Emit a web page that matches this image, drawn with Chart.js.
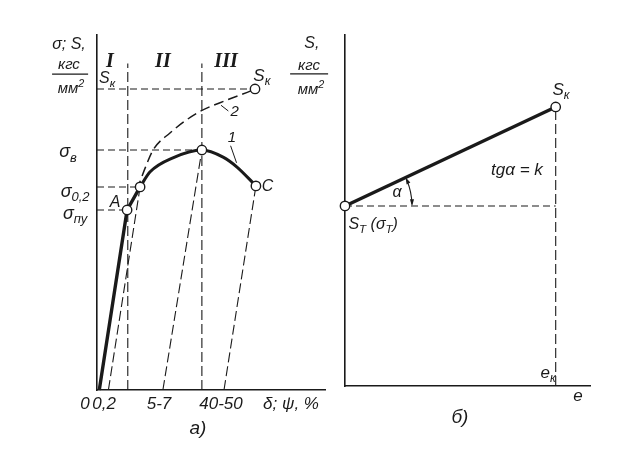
<!DOCTYPE html>
<html>
<head>
<meta charset="utf-8">
<script src="https://cdn.jsdelivr.net/npm/chart.js@4.4.1/dist/chart.umd.min.js"></script>
<style>
    html, body { margin: 0; padding: 0; background: #fff; }
    #wrap { position: relative; width: 627px; height: 450px; overflow: hidden; }
    canvas { position: absolute; top: 0; }
    #left { left: 0; }
    #right { left: 285px; }
</style>
</head>
<body>
<div id="wrap">
    <canvas id="left" width="335" height="450"></canvas>
    <canvas id="right" width="342" height="450"></canvas>
</div>
<script>
// ---- a) tension diagram: curve 1 (conventional), curve 2 (true stress) ----
var elasticX = [1, 13.2, 18.9];
var elasticY = [0, 50.7, 57.2];
var curve1X = [18.9, 23.2, 33.3, 46, 55.3, 61.4, 69.7];
var curve1Y = [57.2, 61.4, 65.4, 67.6, 65.6, 62.8, 57.5];
var curve2X = [17.5, 21.1, 24.6, 32.0, 43.9, 57.0, 68.4, 69.3];
var curve2Y = [56.3, 62.5, 67.6, 72.4, 78.0, 81.7, 84.5, 84.8];
// stress levels: S_k, σ_в, σ_0,2, σ_пу
var levelY = [84.8, 67.6, 57.2, 50.7];
var levelEndX = [69.3, 46, 18.9, 13.2];
// zone borders I | II | III
var zoneX = [13.5, 46];
var zoneTopY = 92;
// unloading lines down to the residual strain
var unloadFootX = [5, 28.9, 55.7];
var unloadTopX = [18.9, 46, 69.7];
var unloadTopY = [57.2, 67.6, 57.5];
var markerX = [13.2, 18.9, 46, 69.7, 69.3];
var markerY = [50.7, 57.2, 67.6, 57.5, 84.8];
var xTickLabels = ['0', '0,2', '5-7', '40-50'];
var xTickAt = [-5.3, 3.1, 27.2, 54.4];

// ---- б) true stress vs strain: S_т(σ_т) -> S_к ----
var rightX = [0, 86];
var rightY = [51.3, 79.5];

var INK = '#1a1a1a';
var FAM = '"Liberation Sans", sans-serif';

function pts(xs, ys) {
    return xs.map(function (x, i) { return { x: x, y: ys[i] }; });
}

function seg(xs, ys, extra) {
    return Object.assign({
        data: pts(xs, ys),
        borderColor: INK,
        borderWidth: 1.1,
        pointRadius: 0,
        fill: false,
        tension: 0,
        clip: false
    }, extra || {});
}

function markers(xs, ys) {
    return {
        data: pts(xs, ys),
        showLine: false,
        pointRadius: 4.7,
        pointBackgroundColor: '#fff',
        pointBorderColor: INK,
        pointBorderWidth: 1.4,
        clip: false
    };
}

// text with sub (1) and superscript (2) parts
function drawRich(ctx, parts, x, y, size, font) {
    var fam = font || ('italic SIZEpx ' + FAM);
    var w = 0;
    parts.forEach(function (p) {
        ctx.font = fam.replace('SIZE', p[1] ? size * 0.72 : size);
        w += ctx.measureText(p[0]).width;
    });
    var cx = x - w / 2;
    ctx.textBaseline = 'middle';
    ctx.textAlign = 'left';
    ctx.fillStyle = INK;
    parts.forEach(function (p) {
        var s = p[1] ? size * 0.72 : size;
        ctx.font = fam.replace('SIZE', s);
        var dy = p[1] === 1 ? size * 0.32 : (p[1] === 2 ? -size * 0.36 : 0);
        ctx.fillText(p[0], cx, y + dy);
        cx += ctx.measureText(p[0]).width;
    });
}

function line(ctx, x1, y1, x2, y2, w) {
    ctx.beginPath();
    ctx.moveTo(x1, y1);
    ctx.lineTo(x2, y2);
    ctx.lineWidth = w || 1;
    ctx.strokeStyle = INK;
    ctx.setLineDash([]);
    ctx.stroke();
}

function textPlugin(items, extra) {
    return {
        id: 'texts',
        afterDraw: function (chart) {
            var ctx = chart.ctx, sx = chart.scales.x, sy = chart.scales.y;
            ctx.save();
            items.forEach(function (it) {
                drawRich(ctx, it.p, sx.getPixelForValue(it.x), sy.getPixelForValue(it.y), it.s || 16, it.f);
            });
            if (extra) extra(ctx, sx, sy);
            ctx.restore();
        }
    };
}

function options(pad) {
    var axis = {
        type: 'linear', min: 0, max: 100,
        grid: { display: false },
        ticks: { display: false },
        border: { color: INK, width: 1.6 }
    };
    return {
        responsive: false,
        animation: false,
        events: [],
        layout: { padding: pad },
        plugins: { legend: { display: false }, tooltip: { enabled: false } },
        scales: {
            x: Object.assign({ afterFit: function (s) { s.height = 0; } }, axis),
            y: Object.assign({ afterFit: function (s) { s.width = 0; } }, axis)
        }
    };
}

// ================= a) =================
var leftSets = [markers(markerX, markerY)];
leftSets.push(seg(elasticX, elasticY, { borderWidth: 3.4 }));
leftSets.push(seg(curve1X, curve1Y, { borderWidth: 3, cubicInterpolationMode: 'monotone' }));
leftSets.push(seg(curve2X, curve2Y, { borderWidth: 1.5, borderDash: [10, 5], cubicInterpolationMode: 'monotone' }));
levelY.forEach(function (y, i) {
    leftSets.push(seg([0, levelEndX[i]], [y, y], { borderDash: [7, 4] }));
});
zoneX.forEach(function (x) {
    leftSets.push(seg([x, x], [0, zoneTopY], { borderDash: [10, 4] }));
});
unloadFootX.forEach(function (x, i) {
    leftSets.push(seg([x, unloadTopX[i]], [0, unloadTopY[i]], { borderDash: [10, 4] }));
});

var roman = 'bold italic SIZEpx "Liberation Serif", serif';
var leftTexts = [
    { p: [['σ; S,', 0]], x: -12.3, y: 97.2, s: 16 },
    { p: [['кгс', 0]], x: -12.3, y: 91.5, s: 15 },
    { p: [['мм', 0], ['2', 2]], x: -11.4, y: 84.8, s: 15 },
    { p: [['S', 0], ['к', 1]], x: 4.4, y: 87.6, s: 16 },
    { p: [['σ', 0], ['в', 1]], x: -12.7, y: 67.0, s: 18 },
    { p: [['σ', 0], ['0,2', 1]], x: -9.6, y: 55.8, s: 18 },
    { p: [['A', 0]], x: 7.9, y: 52.9, s: 16 },
    { p: [['σ', 0], ['пу', 1]], x: -9.6, y: 49.6, s: 18 },
    { p: [['S', 0], ['к', 1]], x: 72.3, y: 88.5, s: 17 },
    { p: [['2', 0]], x: 60.4, y: 78.3, s: 15 },
    { p: [['1', 0]], x: 59.2, y: 71.0, s: 15 },
    { p: [['C', 0]], x: 74.8, y: 57.4, s: 16 },
    { p: [['I', 0]], x: 5.7, y: 92.4, s: 20, f: roman },
    { p: [['II', 0]], x: 28.9, y: 92.4, s: 20, f: roman },
    { p: [['III', 0]], x: 56.6, y: 92.4, s: 20, f: roman },
    { p: [['δ; ψ, %', 0]], x: 85.1, y: -3.9, s: 17 },
    { p: [['а)', 0]], x: 44.3, y: -11.0, s: 19 }
];
xTickLabels.forEach(function (t, i) {
    leftTexts.push({ p: [[t, 0]], x: xTickAt[i], y: -3.9, s: 17 });
});

new Chart(document.getElementById('left'), {
    type: 'line',
    data: { datasets: leftSets },
    options: options({ left: 97, right: 10, top: 35, bottom: 60 }),
    plugins: [textPlugin(leftTexts, function (ctx, sx, sy) {
        // unit fraction bar
        line(ctx, sx.getPixelForValue(-19.7), sy.getPixelForValue(89), sx.getPixelForValue(-3.9), sy.getPixelForValue(89), 1.2);
        // leaders for curve numbers
        line(ctx, sx.getPixelForValue(54.4), sy.getPixelForValue(80.2), sx.getPixelForValue(57.6), sy.getPixelForValue(78.6), 1);
        line(ctx, sx.getPixelForValue(58.6), sy.getPixelForValue(68.8), sx.getPixelForValue(61.2), sy.getPixelForValue(64.0), 1);
    })]
});

// ================= б) =================
var rightSets = [
    markers(rightX, rightY),
    seg(rightX, rightY, { borderWidth: 3.4 }),
    seg([rightX[0], rightX[1]], [rightY[0], rightY[0]], { borderDash: [7, 4] }),
    seg([rightX[1], rightX[1]], [0, rightY[1]], { borderDash: [10, 4] })
];

var rightTexts = [
    { p: [['S,', 0]], x: -13.5, y: 97.7, s: 16 },
    { p: [['кгс', 0]], x: -14.7, y: 91.2, s: 15 },
    { p: [['мм', 0], ['2', 2]], x: -13.9, y: 84.3, s: 15 },
    { p: [['S', 0], ['к', 1]], x: 88.2, y: 84.3, s: 17 },
    { p: [['tgα = k', 0]], x: 70.2, y: 61.5, s: 17 },
    { p: [['α', 0]], x: 21.2, y: 55.0, s: 16 },
    { p: [['S', 0], ['Т', 1], [' (σ', 0], ['Т', 1], [')', 0]], x: 11.5, y: 45.9, s: 16 },
    { p: [['e', 0], ['к', 1]], x: 82.9, y: 3.6, s: 17 },
    { p: [['e', 0]], x: 95.1, y: -2.8, s: 17 },
    { p: [['б)', 0]], x: 46.9, y: -9.1, s: 19 }
];

function arrowHead(ctx, x, y, ang) {
    ctx.beginPath();
    ctx.moveTo(x, y);
    ctx.lineTo(x - 7 * Math.cos(ang - 0.3), y - 7 * Math.sin(ang - 0.3));
    ctx.lineTo(x - 7 * Math.cos(ang + 0.3), y - 7 * Math.sin(ang + 0.3));
    ctx.closePath();
    ctx.fillStyle = INK;
    ctx.fill();
}

new Chart(document.getElementById('right'), {
    type: 'line',
    data: { datasets: rightSets },
    options: options({ left: 60, right: 37, top: 35, bottom: 64 }),
    plugins: [textPlugin(rightTexts, function (ctx, sx, sy) {
        line(ctx, sx.getPixelForValue(-22.4), sy.getPixelForValue(88.9), sx.getPixelForValue(-6.9), sy.getPixelForValue(88.9), 1.2);
        // angle α arc between the dashed base and the line
        var x0 = sx.getPixelForValue(rightX[0]), y0 = sy.getPixelForValue(rightY[0]);
        var x1 = sx.getPixelForValue(rightX[1]), y1 = sy.getPixelForValue(rightY[1]);
        var a = Math.atan2(y1 - y0, x1 - x0);
        var r = 67;
        ctx.beginPath();
        ctx.arc(x0, y0, r, a + 0.05, -0.02);
        ctx.lineWidth = 1.1;
        ctx.strokeStyle = INK;
        ctx.setLineDash([]);
        ctx.stroke();
        arrowHead(ctx, x0 + r * Math.cos(a), y0 + r * Math.sin(a), a - Math.PI / 2);
        arrowHead(ctx, x0 + r, y0, Math.PI / 2);
    })]
});
</script>
</body>
</html>
